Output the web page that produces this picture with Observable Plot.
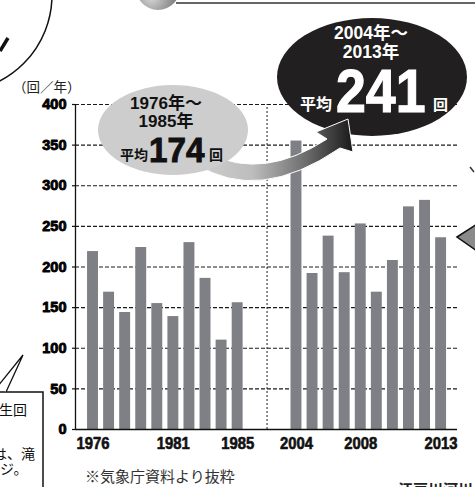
<!DOCTYPE html>
<html><head><meta charset="utf-8">
<script src="https://cdn.jsdelivr.net/npm/d3@7"></script>
<script src="https://cdn.jsdelivr.net/npm/@observablehq/plot@0.6"></script>
<style>
html,body{margin:0;padding:0;background:#fff;}
#wrap{position:relative;width:475px;height:487px;overflow:hidden;background:#fff;}
#wrap svg{position:absolute;left:0;top:0;}
.jp{font-family:"Liberation Sans","Noto Sans CJK JP",sans-serif;}
</style></head><body><div id="wrap"></div>
<script>
// ---- data ----
const years1 = [1976,1977,1978,1979,1980,1981,1982,1983,1984,1985];
const counts1 = [219,169,144,224,155,139,230,186,110,156];
const years2 = [2004,2005,2006,2007,2008,2009,2010,2011,2012,2013];
const counts2 = [355,192,238,193,253,169,208,274,282,236];
const yTicks = [0,50,100,150,200,250,300,350,400];
const xTickYears = [1976,1981,1985,2004,2008,2013];
const period1 = ["1976年～","1985年"];
const period2 = ["2004年～","2013年"];
const avgValues = [174,241];
const unitLabel = "（回／年）";
const sourceNote = "※気象庁資料より抜粋";

// layout constants (slot units)
const GAP = 3.66;           // spacing between the two decades, in bar slots
const HALF = 0.34;          // half bar width in slots
const slotOf = (g, i) => g === 0 ? i : i + 9 + GAP;
const rows = [
  ...years1.map((y, i) => ({year: y, value: counts1[i], slot: slotOf(0, i)})),
  ...years2.map((y, i) => ({year: y, value: counts2[i], slot: slotOf(1, i)}))
];
const yearToSlot = new Map(rows.map(d => [d.year, d.slot]));
const gapMid = (slotOf(0, 9) + slotOf(1, 0)) / 2;
const xDomain = [-1.09, 22.68];
const FONT = "Liberation Sans, Arial, sans-serif";

const chart = Plot.plot({
  width: 475, height: 487,
  marginLeft: 75, marginRight: 18, marginTop: 104, marginBottom: 58,
  x: {domain: xDomain, axis: null},
  y: {domain: [0, 400], axis: null},
  marks: [
    Plot.ruleY(yTicks.filter(d => d > 0), {stroke: "#1a1a1a", strokeWidth: 1.2, strokeDasharray: "4,2"}),
    Plot.ruleX([gapMid], {y1: 0, y2: 400, stroke: "#1a1a1a", strokeWidth: 1, strokeDasharray: "2,2"}),
    Plot.rectY(rows, {x1: d => d.slot - HALF, x2: d => d.slot + HALF, y1: 0, y2: "value", fill: "#7f8085"}),
    Plot.ruleX([xDomain[0]], {y1: 0, y2: 400, stroke: "#111", strokeWidth: 1.3}),
    Plot.ruleY([0], {stroke: "#111", strokeWidth: 1.5}),
    // small tick marks left of the axis
    Plot.ruleY(yTicks, {x1: xDomain[0], x2: xDomain[0], insetLeft: -3, stroke: "#111", strokeWidth: 1.2}),
    Plot.text(yTicks, {x: xDomain[0], y: d => d, text: d => String(d), dx: -9, textAnchor: "end",
      fontSize: 14.5, fontWeight: 900, fontFamily: FONT, fill: "#000",
      stroke: "#000", strokeWidth: 0.9, paintOrder: "stroke", className: "ylab"}),
    Plot.text(xTickYears, {x: y => yearToSlot.get(y), y: 0, text: y => String(y), dy: 14,
      fontSize: 16.5, fontWeight: "bold", fontFamily: FONT, fill: "#111",
      stroke: "#111", strokeWidth: 0.6, paintOrder: "stroke", className: "xlab"})
  ]
});
document.getElementById("wrap").appendChild(chart);
// condense the year labels slightly
d3.select(chart).selectAll(".xlab text").each(function(){
  const t = this.getAttribute("transform");
  if (t) this.setAttribute("transform", t + " scale(0.9,1)");
  else {
    const x = +this.getAttribute("x") || 0, y = +this.getAttribute("y") || 0;
    this.setAttribute("transform", `translate(${x},${y}) scale(0.9,1) translate(${-x},${-y})`);
  }
});

// ---- decorations / callouts overlay ----
const NS = "http://www.w3.org/2000/svg";
const ov = d3.select("#wrap").append("svg").attr("width", 475).attr("height", 487).attr("xmlns", NS);
const defs = ov.append("defs");
const lg = defs.append("linearGradient").attr("id", "sw").attr("gradientUnits", "userSpaceOnUse")
  .attr("x1", 200).attr("y1", 0).attr("x2", 350).attr("y2", 0);
lg.append("stop").attr("offset", 0).attr("stop-color", "#cdcdcd");
lg.append("stop").attr("offset", 0.35).attr("stop-color", "#bdbdbd");
lg.append("stop").attr("offset", 0.7).attr("stop-color", "#6e6e6e");
lg.append("stop").attr("offset", 1).attr("stop-color", "#1e1e1e");
const rg = defs.append("radialGradient").attr("id", "sph").attr("cx", 0.35).attr("cy", 0.7).attr("r", 0.7);
rg.append("stop").attr("offset", 0).attr("stop-color", "#d8d8d8");
rg.append("stop").attr("offset", 1).attr("stop-color", "#6a6a6a");

// top-left bubble arc and stroke
ov.append("circle").attr("cx", -45).attr("cy", -5).attr("r", 97).attr("fill", "#fff").attr("stroke", "#111").attr("stroke-width", 1.5);
ov.append("path").attr("d", "M0 51 L8 38").attr("stroke", "#111").attr("stroke-width", 3.5);
// top sphere and rule
ov.append("line").attr("x1", 176).attr("x2", 476).attr("y1", 3).attr("y2", 3).attr("stroke", "#333").attr("stroke-width", 1.5);
ov.append("circle").attr("cx", 158).attr("cy", -12).attr("r", 22).attr("fill", "url(#sph)");

// unit label
ov.append("text").attr("class", "jp").attr("x", 13).attr("y", 92).attr("font-size", 13.5).attr("fill", "#222").text(unitLabel);

// black ellipse
ov.append("ellipse").attr("cx", 372).attr("cy", 77).attr("rx", 95).attr("ry", 59).attr("fill", "#221f20");
// swoosh arrow
ov.append("path").attr("d", "M196 164 Q258 204 340 148 L353 152 L348 119 L316 132 L327 139 Q264 180 210 154 Z")
  .attr("fill", "url(#sw)").attr("stroke", "#fff").attr("stroke-width", 1);
// gray ellipse
ov.append("ellipse").attr("cx", 173).attr("cy", 130).attr("rx", 75).attr("ry", 45).attr("fill", "#cdcdcd");

// gray ellipse texts
const gtx = ov.append("g").attr("class", "jp").attr("font-weight", "bold").attr("fill", "#111");
gtx.append("text").attr("x", 166).attr("y", 109).attr("text-anchor", "middle").attr("font-size", 17).text(period1[0]);
gtx.append("text").attr("x", 166).attr("y", 127).attr("text-anchor", "middle").attr("font-size", 17).text(period1[1]);
gtx.append("text").attr("x", 120).attr("y", 160).attr("font-size", 14).text("平均");
gtx.append("text").attr("transform", "translate(149,162) scale(0.95,1)").attr("font-size", 35)
  .attr("stroke", "#111").attr("stroke-width", 1).text(String(avgValues[0]));
gtx.append("text").attr("x", 209).attr("y", 160).attr("font-size", 14).text("回");

// black ellipse texts
const btx = ov.append("g").attr("class", "jp").attr("font-weight", "bold").attr("fill", "#fff");
btx.append("text").attr("x", 371).attr("y", 39).attr("text-anchor", "middle").attr("font-size", 17.5).text(period2[0]);
btx.append("text").attr("x", 371).attr("y", 58).attr("text-anchor", "middle").attr("font-size", 17.5).text(period2[1]);
btx.append("text").attr("x", 300).attr("y", 110).attr("font-size", 16).text("平均");
btx.append("text").attr("transform", "translate(336,112) scale(0.88,1)").attr("font-size", 61)
  .attr("stroke", "#fff").attr("stroke-width", 1.2).text(String(avgValues[1]));
btx.append("text").attr("x", 433).attr("y", 110).attr("font-size", 15).text("回");

// bottom-left box
ov.append("rect").attr("x", -5).attr("y", 392).attr("width", 48).attr("height", 120).attr("fill", "#fff").attr("stroke", "#111").attr("stroke-width", 1.5);
ov.append("path").attr("d", "M-2 386 L23 355 L6 392").attr("fill", "#fff").attr("stroke", "#111").attr("stroke-width", 1.3);
const lt = ov.append("g").attr("class", "jp").attr("font-size", 14).attr("fill", "#111");
lt.append("text").attr("x", -1).attr("y", 415).text("生回");
lt.append("text").attr("x", -7).attr("y", 459).text("は、滝");
lt.append("text").attr("x", 0).attr("y", 474).text("ジ。");

// right pointer
ov.append("polygon").attr("points", "457,237 477,224 477,251").attr("fill", "#8a8a8a").attr("stroke", "#111").attr("stroke-width", 1.5);
ov.append("path").attr("d", "M470 167 L474 172").attr("stroke", "#333").attr("stroke-width", 1.5);

// footnote and cut-off credit
ov.append("text").attr("class", "jp").attr("x", 85).attr("y", 482).attr("font-size", 15).attr("fill", "#333").text(sourceNote);
ov.append("text").attr("class", "jp").attr("x", 398).attr("y", 495).attr("font-size", 15).attr("font-weight", "bold").attr("fill", "#222").text("江戸川河川");
</script></body></html>
